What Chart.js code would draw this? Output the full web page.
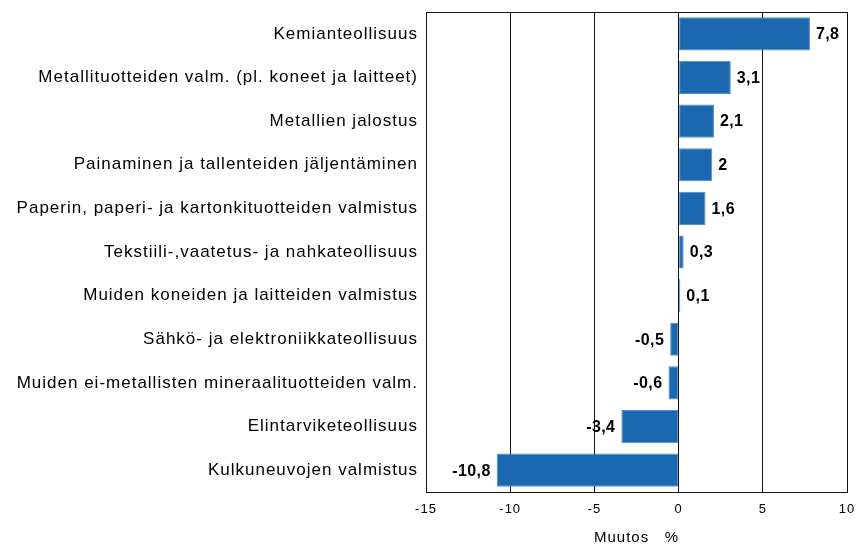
<!DOCTYPE html>
<html><head><meta charset="utf-8">
<script src="https://cdn.jsdelivr.net/npm/chart.js@4/dist/chart.umd.min.js"></script>
<style>html,body{margin:0;padding:0;background:#fff}#wrap{width:856px;height:547px}</style>
</head><body><div id="wrap"><canvas id="c" width="856" height="547"></canvas></div>
<script>
const categories = [
  "Kemianteollisuus",
  "Metallituotteiden valm. (pl. koneet ja laitteet)",
  "Metallien jalostus",
  "Painaminen ja tallenteiden jäljentäminen",
  "Paperin, paperi- ja kartonkituotteiden valmistus",
  "Tekstiili-,vaatetus- ja nahkateollisuus",
  "Muiden koneiden ja laitteiden valmistus",
  "Sähkö- ja elektroniikkateollisuus",
  "Muiden ei-metallisten mineraalituotteiden valm.",
  "Elintarviketeollisuus",
  "Kulkuneuvojen valmistus"
];
const values = [7.8, 3.1, 2.1, 2, 1.6, 0.3, 0.1, -0.5, -0.6, -3.4, -10.8];
const xMin = -15, xMax = 10, xStep = 5;
const axisTitle = "Muutos   %";

const LS = '1px';
const spacingPlugin = {
  id: 'spacing',
  beforeUpdate(chart){ chart.ctx.letterSpacing = LS; },
  beforeLayout(chart){ chart.ctx.letterSpacing = LS; },
  beforeDraw(chart){ chart.ctx.letterSpacing = LS; }
};
const framePlugin = {
  id: 'frame',
  afterDraw(chart){
    const a = chart.chartArea, ctx = chart.ctx;
    ctx.save();
    ctx.strokeStyle = '#111';
    ctx.lineWidth = 1;
    ctx.strokeRect(Math.round(a.left)+0.5, Math.round(a.top)+0.5, Math.round(a.right-a.left), Math.round(a.bottom-a.top));
    ctx.restore();
  }
};
const valuePlugin = {
  id: 'vals',
  afterDatasetsDraw(chart){
    const ctx = chart.ctx;
    const meta = chart.getDatasetMeta(0);
    ctx.save();
    ctx.font = "bold 16px 'Liberation Sans Narrow', 'Arial Narrow', 'Liberation Sans', sans-serif";
    ctx.letterSpacing = '0.4px';
    ctx.fillStyle = '#000';
    ctx.textBaseline = 'middle';
    meta.data.forEach((bar, i) => {
      const v = values[i];
      const txt = String(v).replace('.', ',');
      if (v >= 0) { ctx.textAlign = 'left'; ctx.fillText(txt, bar.x + 6, bar.y + 1); }
      else { ctx.textAlign = 'right'; ctx.fillText(txt, bar.x - 6, bar.y + 1); }
    });
    ctx.restore();
  }
};

new Chart(document.getElementById('c'), {
  type: 'bar',
  data: {
    labels: categories,
    datasets: [{
      data: values,
      backgroundColor: '#1b67b0',
      borderColor: '#4f8fd2',
      borderWidth: 1,
      borderSkipped: false,
      barPercentage: 0.76,
      categoryPercentage: 1
    }]
  },
  options: {
    indexAxis: 'y',
    responsive: false,
    animation: false,
    devicePixelRatio: 1,
    layout: { padding: { top: 12, right: 9, left: 0, bottom: 0 } },
    plugins: { legend: { display: false }, tooltip: { enabled: false } },
    scales: {
      x: {
        min: xMin, max: xMax,
        ticks: { stepSize: xStep, padding: 10, color: '#000',
          font: { family: "'Liberation Sans', Arial, sans-serif", size: 13 },
          callback: v => String(v) },
        grid: { color: '#111', lineWidth: 1, drawTicks: false },
        border: { display: false },
        title: { display: true, text: axisTitle, color: '#000',
          font: { family: "'Liberation Sans', Arial, sans-serif", size: 15 },
          padding: { top: 4, bottom: 0 } },
        afterFit(scale){ scale.height = 55; scale.paddingLeft = 0; scale.paddingRight = 0; }
      },
      y: {
        ticks: { padding: 8, color: '#000', autoSkip: false,
          font: { family: "'Liberation Sans', Arial, sans-serif", size: 17 } },
        grid: { display: false, drawTicks: false },
        border: { display: false },
        afterFit(scale){ scale.width = 426; scale.paddingTop = 0; scale.paddingBottom = 0; }
      }
    }
  },
  plugins: [spacingPlugin, framePlugin, valuePlugin]
});
</script>
</body></html>
